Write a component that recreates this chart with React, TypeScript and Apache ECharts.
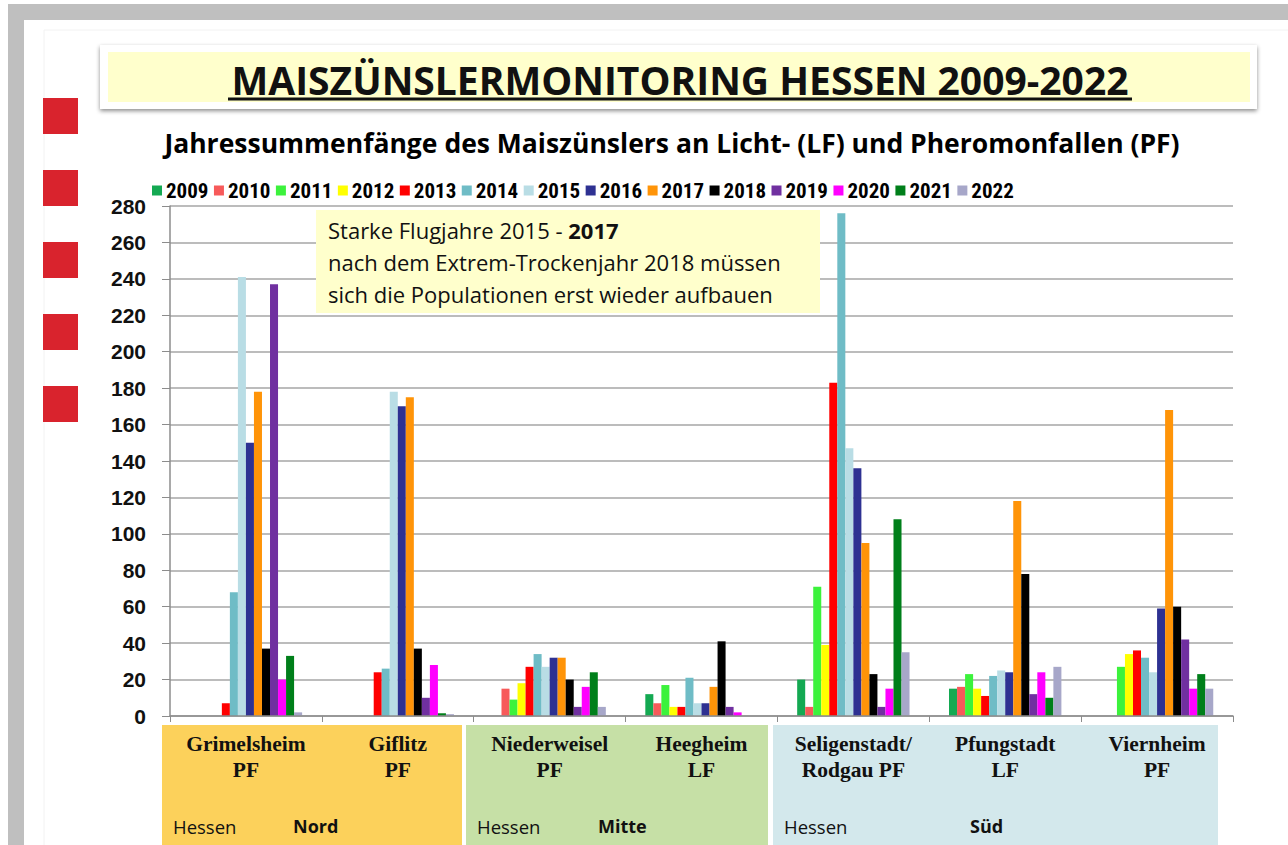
import React, { useEffect, useRef } from "react";
import * as echarts from "echarts";

const categories = [
  "Grimelsheim\nPF",
  "Giflitz\nPF",
  "Niederweisel\nPF",
  "Heegheim\nLF",
  "Seligenstadt/\nRodgau PF",
  "Pfungstadt\nLF",
  "Viernheim\nPF",
];

const years = ["2009", "2010", "2011", "2012", "2013", "2014", "2015", "2016", "2017", "2018", "2019", "2020", "2021", "2022"];

const v2009 = [0, 0, 0, 12, 20, 15, 0];
const v2010 = [0, 0, 15, 7, 5, 16, 0];
const v2011 = [0, 0, 9, 17, 71, 23, 27];
const v2012 = [0, 0, 18, 5, 39, 15, 34];
const v2013 = [7, 24, 27, 5, 183, 11, 36];
const v2014 = [68, 26, 34, 21, 276, 22, 32];
const v2015 = [241, 178, 27, 7, 147, 25, 24];
const v2016 = [150, 170, 32, 7, 136, 24, 59];
const v2017 = [178, 175, 32, 16, 95, 118, 168];
const v2018 = [37, 37, 20, 41, 23, 78, 60];
const v2019 = [237, 10, 5, 5, 5, 12, 42];
const v2020 = [20, 28, 16, 2, 15, 24, 15];
const v2021 = [33, 1.5, 24, 0, 108, 10, 23];
const v2022 = [2, 1, 5, 0, 35, 27, 15];

const seriesValues = [v2009, v2010, v2011, v2012, v2013, v2014, v2015, v2016, v2017, v2018, v2019, v2020, v2021, v2022];

const yearColors = [
  "#14a952", "#f75a5a", "#3cf23c", "#ffff00", "#ff0000", "#6fbcc6", "#b9dde5",
  "#2e3192", "#ff9408", "#000000", "#7030a0", "#ff00ff", "#007f1a", "#a7a7c9",
];

const yTicks = { min: 0, max: 280, interval: 20 };

const regions = [
  { x: 162, w: 300, color: "#fcd15b", left: "Hessen", right: "Nord", rx: 293 },
  { x: 466, w: 302, color: "#c6e0a6", left: "Hessen", right: "Mitte", rx: 598 },
  { x: 773, w: 445, color: "#d3e8ec", left: "Hessen", right: "Süd", rx: 970 },
];

const redSquaresY = [98, 170, 242, 314, 386];

export default function App() {
  const ref = useRef<HTMLDivElement>(null);

  useEffect(() => {
    if (!ref.current) return;
    const chart = echarts.init(ref.current, null, { renderer: "svg" });

    const graphics: any[] = [
      // frame
      { type: "rect", z: -10, shape: { x: 8, y: 4, width: 1280, height: 841 }, style: { fill: "#bfbfbf" } },
      { type: "rect", z: -10, shape: { x: 24, y: 20, width: 1264, height: 825 }, style: { fill: "#ffffff" } },
      { type: "rect", z: -10, shape: { x: 44, y: 30, width: 1250, height: 820 }, style: { fill: "none", stroke: "#f2f2f2", lineWidth: 1 } },
      // title box
      {
        type: "rect", z: -5,
        shape: { x: 100, y: 45, width: 1157, height: 64 },
        style: { fill: "#ffffff", shadowBlur: 4, shadowOffsetY: 2, shadowColor: "rgba(0,0,0,0.45)" },
      },
      { type: "rect", z: -4, shape: { x: 108, y: 52, width: 1142, height: 50 }, style: { fill: "#ffffcc" } },
      {
        type: "text", z: 5, x: 680, y: 79,
        style: {
          text: "MAISZÜNSLERMONITORING HESSEN 2009-2022",
          font: "bold 39px 'Open Sans', sans-serif",
          fill: "#111111", align: "center", verticalAlign: "middle",
        },
      },
      { type: "line", z: 5, shape: { x1: 228, y1: 99, x2: 1132, y2: 99 }, style: { stroke: "#111111", lineWidth: 3 } },
      // subtitle
      {
        type: "text", z: 5, x: 672, y: 143,
        style: {
          text: "Jahressummenfänge des Maiszünslers an Licht- (LF) und Pheromonfallen (PF)",
          font: "bold 26.5px 'Open Sans', sans-serif",
          fill: "#000000", align: "center", verticalAlign: "middle",
        },
      },
      // annotation box
      { type: "rect", z: 3, shape: { x: 316, y: 210, width: 504, height: 103 }, style: { fill: "#ffffcc" } },
      {
        type: "text", z: 4, x: 328, y: 230,
        style: {
          rich: {
            n: { font: "22px 'Open Sans', sans-serif", fill: "#111" },
            b: { font: "bold 22px 'Open Sans', sans-serif", fill: "#111" },
          },
          text: "{n|Starke Flugjahre 2015 - }{b|2017}",
          verticalAlign: "middle",
        },
      },
      {
        type: "text", z: 4, x: 328, y: 262,
        style: { text: "nach dem Extrem-Trockenjahr 2018 müssen", font: "22px 'Open Sans', sans-serif", fill: "#111", verticalAlign: "middle" },
      },
      {
        type: "text", z: 4, x: 328, y: 294,
        style: { text: "sich die Populationen erst wieder aufbauen", font: "22px 'Open Sans', sans-serif", fill: "#111", verticalAlign: "middle" },
      },
    ];

    redSquaresY.forEach((y) => {
      graphics.push({ type: "rect", z: 1, shape: { x: 43, y, width: 35, height: 36 }, style: { fill: "#d9232d" } });
    });

    regions.forEach((r) => {
      graphics.push({ type: "rect", z: -3, shape: { x: r.x, y: 725, width: r.w, height: 120 }, style: { fill: r.color } });
      graphics.push({
        type: "text", z: 4, x: r.x + 11, y: 826,
        style: { text: r.left, font: "18.5px 'Open Sans', sans-serif", fill: "#111", verticalAlign: "middle" },
      });
      graphics.push({
        type: "text", z: 4, x: r.rx, y: 826,
        style: { text: r.right, font: "bold 18px 'Open Sans', sans-serif", fill: "#111", verticalAlign: "middle" },
      });
    });

    const option: any = {
      animation: false,
      backgroundColor: "transparent",
      grid: { left: 170, right: 55, top: 206, bottom: 129, containLabel: false },
      legend: {
        data: years,
        left: 152,
        top: 180,
        icon: "rect",
        itemWidth: 10,
        itemHeight: 10,
        itemGap: 5.5,
        padding: 0,
        textStyle: {
          fontFamily: "'Liberation Sans Narrow', 'Arial Narrow', 'Roboto Condensed', sans-serif",
          fontWeight: "bold",
          fontSize: 21,
          color: "#000",
          width: 56,
          overflow: "none",
          padding: [0, 0, 0, -1],
        },
      },
      xAxis: {
        type: "category",
        data: categories,
        axisLine: { show: true, lineStyle: { color: "#8c8c8c", width: 1.5 } },
        axisTick: { show: true, length: 6, lineStyle: { color: "#8c8c8c" }, alignWithLabel: false },
        axisLabel: {
          interval: 0,
          margin: 15,
          fontFamily: "'Liberation Serif', serif",
          fontWeight: "bold",
          fontSize: 21.5,
          lineHeight: 26,
          color: "#111",
          align: "center",
        },
        z: 5,
      },
      yAxis: {
        type: "value",
        min: yTicks.min,
        max: yTicks.max,
        interval: yTicks.interval,
        axisLine: { show: true, lineStyle: { color: "#8c8c8c", width: 1.5 } },
        axisTick: { show: true, length: 8, lineStyle: { color: "#8c8c8c" } },
        splitLine: { show: true, lineStyle: { color: "#a6a6a6", width: 1.5 } },
        axisLabel: {
          margin: 24,
          fontFamily: "'Liberation Sans', Arial, sans-serif",
          fontWeight: "bold",
          fontSize: 21,
          color: "#111",
        },
      },
      series: years.map((y, i) => ({
        name: y,
        type: "bar",
        data: seriesValues[i],
        barGap: "0%",
        barCategoryGap: "26%",
        itemStyle: { color: yearColors[i] },
        z: 2,
      })),
      graphic: graphics,
    };

    chart.setOption(option);
    return () => chart.dispose();
  }, []);

  return (
    <div
      ref={ref}
      style={{ position: "fixed", left: 0, top: 0, width: 1288, height: 845, background: "#ffffff" }}
    />
  );
}
